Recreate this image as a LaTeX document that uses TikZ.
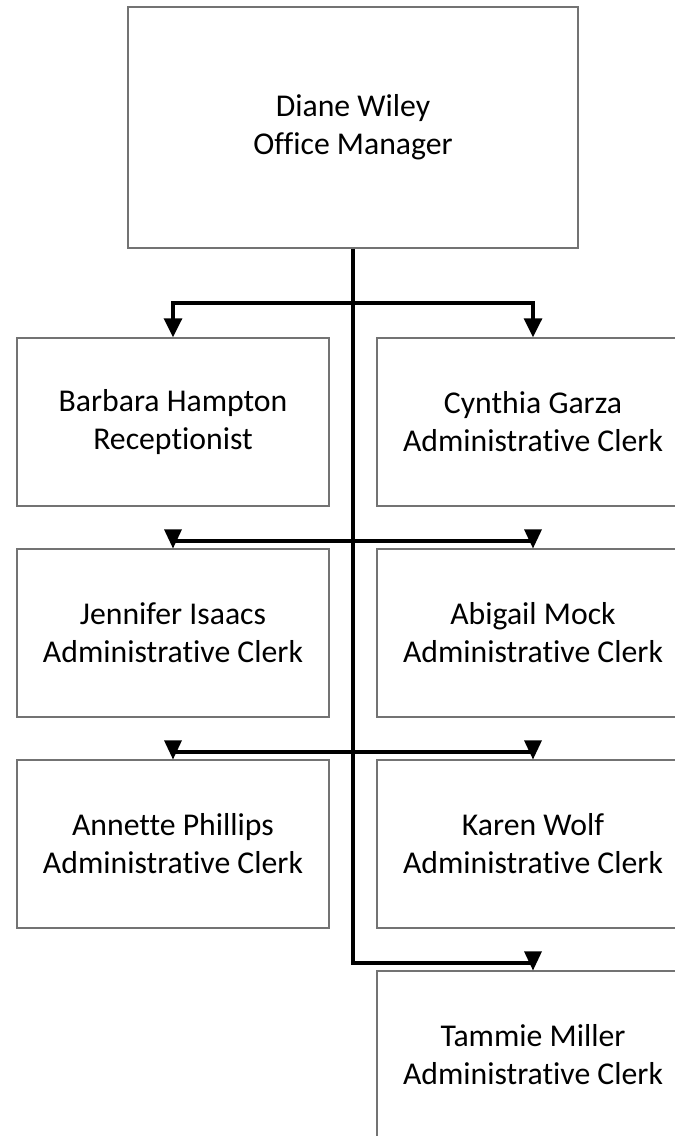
\documentclass[tikz,border=0pt]{standalone}
\usepackage{fontspec}
\setmainfont{Carlito}[Ligatures={NoCommon}]
\usetikzlibrary{arrows.meta,calc}
\begin{document}
\begin{tikzpicture}[x=0.75pt,y=-0.75pt,
  box/.style={draw=black!55, line width=1pt, fill=white, align=center,
    inner sep=0pt, minimum width=234pt, minimum height=126pt,
    font=\fontsize{23.8}{28.5}\selectfont},
  topbox/.style={box, minimum width=337.5pt, minimum height=180.75pt},
  conn/.style={draw=black, line width=2.4pt},
  arrowed/.style={conn, -{Triangle[length=14.25pt,width=13.5pt]}},
  arrowhd/.style={fill=black}]
\clip (0,0) rectangle (675,1136);
% boxes
\node[topbox] (top) at (353,127.5) {Diane Wiley\\Office Manager};
\node[box] (b1) at (173,422) {Barbara Hampton\\Receptionist};
\node[box] (b2) at (533,422) {Cynthia Garza\\Administrative Clerk};
\node[box] (b3) at (173,633) {Jennifer Isaacs\\Administrative Clerk};
\node[box] (b4) at (533,633) {Abigail Mock\\Administrative Clerk};
\node[box] (b5) at (173,844) {Annette Phillips\\Administrative Clerk};
\node[box] (b6) at (533,844) {Karen Wolf\\Administrative Clerk};
\node[box] (b7) at (533,1055) {Tammie Miller\\Administrative Clerk};
% junctions on the trunk
\coordinate (j1) at (353,303);
\coordinate (j2) at (353,541);
\coordinate (j3) at (353,752);
\coordinate (j4) at (353,963);
% trunk
\draw[conn] (top.south) -- (j4) -- (j4 -| b7.north);
% row 1
\draw[arrowed] (j1) -| (b1.north);
\draw[arrowed] (j1) -| (b2.north);
% row 2
\draw[conn] (j2 -| b3.north) -- (j2 -| b4.north);
% row 3
\draw[conn] (j3 -| b5.north) -- (j3 -| b6.north);
% arrowheads for rows 2-4
\foreach \n in {b3,b4,b5,b6,b7}{
  \fill[arrowhd] ($(\n.north)+(-9,-19)$) -- ($(\n.north)+(9,-19)$) -- (\n.north) -- cycle;
}
\end{tikzpicture}
\end{document}
